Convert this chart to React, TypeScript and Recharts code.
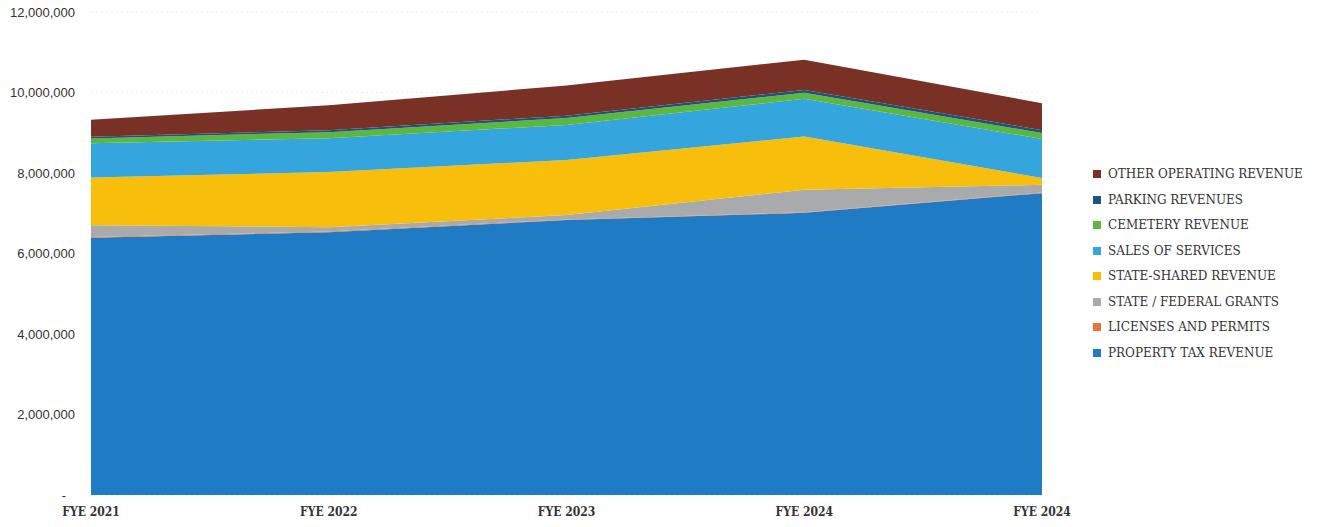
import React from "react";
import { AreaChart, Area, XAxis, YAxis, CartesianGrid } from "recharts";

const categories = ["FYE 2021", "FYE 2022", "FYE 2023", "FYE 2024", "FYE 2024"];
const propertyTax = [6390000, 6530000, 6830000, 7010000, 7500000];
const licenses = [20000, 15000, 15000, 15000, 15000];
const grants = [290000, 110000, 110000, 560000, 190000];
const stateShared = [1190000, 1370000, 1370000, 1320000, 170000];
const salesServices = [850000, 840000, 870000, 940000, 970000];
const cemetery = [120000, 150000, 170000, 150000, 150000];
const parking = [40000, 50000, 60000, 70000, 70000];
const otherOperating = [420000, 620000, 750000, 750000, 670000];
const yTicks = [0, 2000000, 4000000, 6000000, 8000000, 10000000, 12000000];

const series = [
  { key: "property", name: "PROPERTY TAX REVENUE", values: propertyTax, color: "#1F7BC4" },
  { key: "licenses", name: "LICENSES AND PERMITS", values: licenses, color: "#E8743B" },
  { key: "grants", name: "STATE / FEDERAL GRANTS", values: grants, color: "#A9AAAC" },
  { key: "stateShared", name: "STATE-SHARED REVENUE", values: stateShared, color: "#F7BF0B" },
  { key: "sales", name: "SALES OF SERVICES", values: salesServices, color: "#35A6DD" },
  { key: "cemetery", name: "CEMETERY REVENUE", values: cemetery, color: "#5CB83C" },
  { key: "parking", name: "PARKING REVENUES", values: parking, color: "#1B557F" },
  { key: "other", name: "OTHER OPERATING REVENUE", values: otherOperating, color: "#7A3125" },
];

const data = categories.map((c, i) => {
  const row: Record<string, any> = { idx: i, cat: c };
  series.forEach((s) => (row[s.key] = s.values[i]));
  return row;
});

const fmt = (v: number) => (v === 0 ? "-" : v.toLocaleString("en-US"));

const YTick = (props: any) => {
  const { x, y, payload } = props;
  const v = payload.value;
  return (
    <text
      x={v === 0 ? x - 9 : x}
      y={y}
      dy="0.355em"
      textAnchor="end"
      fill="#333"
      fontSize={13}
      fontFamily="'Liberation Sans', Arial, sans-serif"
    >
      {fmt(v)}
    </text>
  );
};

const XTick = (props: any) => {
  const { x, y, payload } = props;
  return (
    <text
      x={x}
      y={y}
      dy="0.71em"
      textAnchor="middle"
      fill="#333"
      fontSize={12}
      fontWeight="bold"
      fontFamily="'DejaVu Serif Condensed', 'DejaVu Serif', serif"
      style={{ fontStretch: "condensed" }}
    >
      {categories[payload.value]}
    </text>
  );
};

export default function App() {
  const legendItems = [...series].reverse();
  return (
    <div style={{ position: "absolute", left: 0, top: 0, width: 1320, height: 527, background: "#fff" }}>
      <AreaChart
        width={1100}
        height={527}
        data={data}
        margin={{ top: 12, right: 58, left: 0, bottom: 2 }}
      >
        <CartesianGrid vertical={false} stroke="#ececec" strokeDasharray="2 3" />
        <XAxis
          dataKey="idx"
          type="number"
          domain={[0, 4]}
          ticks={[0, 1, 2, 3, 4]}
          axisLine={false}
          tickLine={false}
          tickSize={0}
          tickMargin={12}
          height={30}
          tick={<XTick />}
          interval={0}
        />
        <YAxis
          width={91}
          domain={[0, 12000000]}
          ticks={yTicks}
          axisLine={false}
          tickLine={false}
          tickSize={0}
          tickMargin={16}
          tick={<YTick />}
          interval={0}
        />
        {series.map((s) => (
          <Area
            key={s.key}
            type="linear"
            dataKey={s.key}
            name={s.name}
            stackId="1"
            stroke="none"
            fill={s.color}
            fillOpacity={1}
            isAnimationActive={false}
            dot={false}
            activeDot={false}
          />
        ))}
      </AreaChart>
      <div style={{ position: "absolute", left: 1093, top: 166 }}>
        {legendItems.map((s) => (
          <div
            key={s.key}
            style={{
              height: 25.5,
              display: "flex",
              alignItems: "flex-start",
              fontFamily: "'DejaVu Serif', serif",
              fontSize: 12,
              color: "#333",
              lineHeight: "16px",
              whiteSpace: "nowrap",
            }}
          >
            <span
              style={{
                display: "inline-block",
                width: 8,
                height: 8,
                background: s.color,
                marginTop: 4,
                marginRight: 7,
              }}
            />
            <span>{s.name}</span>
          </div>
        ))}
      </div>
    </div>
  );
}
